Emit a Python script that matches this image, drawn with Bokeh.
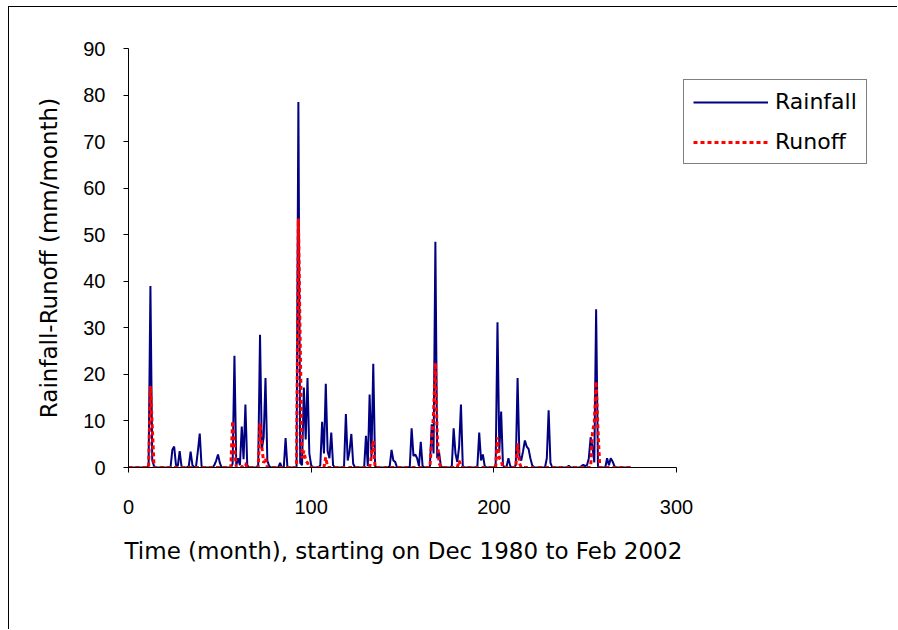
from bokeh.plotting import figure
from bokeh.models import Range1d, FixedTicker, Legend, LegendItem, ColumnDataSource, Title
from bokeh.embed import file_html
from bokeh.resources import INLINE

# Monthly series, month index 0..275
rainfall = [
    0, 0, 0, 0, 0, 0, 0, 0, 0, 0, 0, 0.5,
    39, 1.5, 0.3, 0, 0, 0, 0, 0, 0, 0, 0, 0,
    3.8, 4.5, 0.5, 0.3, 3.5, 0.3, 0, 0, 0, 0.3, 3.4, 0.5,
    0, 0.3, 3.6, 7.3, 0.3, 0, 0, 0, 0, 0, 0, 0.5,
    1.5, 2.8, 1.0, 0, 0, 0, 0, 0, 0, 0.8, 24, 0.5,
    2.0, 0.5, 8.8, 1.8, 13.5, 0.5, 0, 0, 0, 0, 0, 0.5,
    28.5, 4.0, 6.5, 19.2, 1.5, 0.3, 0, 0, 0, 0, 0, 1.0,
    0, 0, 6.3, 0, 0, 0, 0, 0, 0, 78.5, 1.0, 0.5,
    17.2, 6.0, 19.2, 3.0, 0.5, 0, 0, 0, 0, 0.5, 9.8, 3.0,
    18.0, 3.5, 2.0, 7.5, 0.5, 0, 0, 0, 0, 0, 0.3, 11.5,
    1.5, 3.5, 7.2, 0.8, 0, 0, 0, 0, 0, 0, 6.8, 0.3,
    15.7, 2.2, 22.3, 0.3, 0, 0, 0, 0, 0, 0, 0, 0.3,
    3.8, 1.5, 1.2, 0, 0, 0, 0, 0, 0, 0, 0.2, 8.4,
    2.5, 2.8, 2.0, 0.3, 5.5, 0.3, 0, 0, 0, 0.3, 9.3, 3.0,
    48.5, 2.0, 3.3, 0.3, 0, 0, 0, 0, 0, 0.3, 8.4, 3.0,
    1.2, 4.5, 13.5, 0.3, 0, 0, 0, 0, 0, 0, 0, 0.3,
    7.5, 1.5, 2.8, 0.3, 0, 0, 0, 0, 0, 0.5, 31.2, 3.5,
    12.0, 0.5, 0, 0.3, 2.0, 0.3, 0, 0, 0.5, 19.2, 2.5, 1.5,
    3.5, 5.8, 4.5, 4.0, 2.0, 0.5, 0, 0, 0, 0, 0, 0,
    0, 2.0, 12.3, 1.0, 0, 0, 0, 0, 0, 0, 0, 0,
    0, 0.4, 0, 0, 0, 0, 0, 0, 0.3, 0.6, 0.3, 0.5,
    2.0, 6.5, 4.4, 1.1, 34.0, 0.3, 0, 0, 0, 0, 2.0, 0.5,
    2.0, 1.3, 0.3, 0, 0, 0, 0, 0, 0, 0, 0, 0,
]

runoff = [
    0, 0, 0, 0, 0, 0, 0, 0, 0, 0, 0, 0,
    17.5, 9.0, 0, 0, 0, 0, 0, 0, 0, 0, 0, 0,
    0, 0, 0, 0, 0, 0, 0, 0, 0, 0, 0, 0,
    0, 0, 0, 0, 0, 0, 0, 0, 0, 0, 0, 0,
    0, 0, 0, 0, 0, 0, 0, 0, 0, 10.0, 5.0, 0,
    0, 0, 0, 0.8, 0.8, 0, 0, 0, 0, 0, 0, 0,
    9.5, 4.5, 1.0, 2.0, 0, 0, 0, 0, 0, 0, 0, 0,
    0, 0, 0, 0, 0, 0, 0, 0, 0, 53.5, 27.0, 2.0,
    3.6, 1.5, 1.0, 0, 0, 0, 0, 0, 0, 0, 0, 0,
    2.2, 0, 0, 0, 0, 0, 0, 0, 0, 0, 0, 0,
    0, 0, 0, 0, 0, 0, 0, 0, 0, 0, 0, 0,
    0, 2.5, 5.8, 0, 0, 0, 0, 0, 0, 0, 0, 0,
    0, 0, 0, 0, 0, 0, 0, 0, 0, 0, 0, 0,
    0, 0, 0, 0, 0, 0, 0, 0, 0, 0, 6.0, 11.5,
    22.5, 7.0, 1.0, 0, 0, 0, 0, 0, 0, 0, 0, 0,
    0, 1.5, 0, 0, 0, 0, 0, 0, 0, 0, 0, 0,
    0, 0, 0, 0, 0, 0, 0, 0, 0, 0, 6.5, 2.0,
    1.5, 0, 0, 0, 0, 0, 0, 0, 0, 5.2, 1.0, 0,
    0, 0, 0, 0, 0, 0, 0, 0, 0, 0, 0, 0,
    0, 0, 0, 0, 0, 0, 0, 0, 0, 0, 0, 0,
    0, 0, 0, 0, 0, 0, 0, 0, 0, 0, 0, 0,
    0, 0, 7.5, 9.7, 18.5, 8.3, 0, 0, 0, 0, 0, 0,
    0, 0, 0, 0, 0, 0, 0, 0, 0, 0, 0, 0,
]

months = list(range(len(rainfall)))
x_ticks = [0, 100, 200, 300]
y_ticks = [0, 10, 20, 30, 40, 50, 60, 70, 80, 90]
x_axis_min, x_axis_max = 0, 300
y_axis_min, y_axis_max = 0, 90
x_title = "Time (month), starting on Dec 1980 to Feb 2002"
y_title = "Rainfall-Runoff (mm/month)"
series_names = ["Rainfall", "Runoff"]

# frame extends to the right edge so the legend (outside the axes) is drawn;
# the x axis itself is bounded to 0..300
FRAME_W = 770
AXIS_W = 548
x_view_max = x_axis_max * FRAME_W / AXIS_W

src = ColumnDataSource(dict(month=months, rain=rainfall, runoff=runoff))

p = figure(width=889, height=623, output_backend="svg", toolbar_location=None,
           x_range=Range1d(x_axis_min, x_view_max), y_range=Range1d(y_axis_min, y_axis_max),
           min_border_left=119, min_border_right=0,
           min_border_top=41, min_border_bottom=163)
p.margin = (6, 0, 0, 8)
p.styles = {"border-top": "1px solid black", "border-left": "1px solid black"}
p.outline_line_color = None
p.grid.visible = False
p.background_fill_color = "white"
p.border_fill_color = "white"

r_rain = p.line("month", "rain", source=src, line_color="#000080", line_width=2)
r_run = p.line("month", "runoff", source=src, line_color="#FF0000", line_width=3,
               line_dash="4 3")

for ax in (p.xaxis[0], p.yaxis[0]):
    ax.axis_line_color = "black"
    ax.major_tick_line_color = "black"
    ax.major_tick_in = 0
    ax.major_tick_out = 5
    ax.minor_tick_line_color = None
    ax.major_label_text_font = "Liberation Sans"
    ax.major_label_text_font_size = "20px"
    ax.major_label_text_color = "black"
    ax.axis_label_text_font = "DejaVu Sans"
    ax.axis_label_text_font_size = "23px"
    ax.axis_label_text_font_style = "normal"
    ax.axis_label_text_color = "black"

p.xaxis.bounds = (x_axis_min, x_axis_max)
p.xaxis.ticker = FixedTicker(ticks=x_ticks)
p.yaxis.ticker = FixedTicker(ticks=y_ticks)
p.yaxis.axis_label = y_title
p.xaxis.major_label_standoff = 27
p.yaxis.major_label_standoff = 18
p.yaxis.axis_label_standoff = 18

# x-axis title, centred under the bounded axis (0..300)
xt = Title(text=x_title, align="left", offset=-4, vertical_align="top",
           text_font="DejaVu Sans", text_font_size="23px", text_font_style="normal",
           text_color="black", standoff=42)
p.add_layout(xt, "below")

legend = Legend(items=[LegendItem(label=series_names[0], renderers=[r_rain]),
                       LegendItem(label=series_names[1], renderers=[r_run])],
                location=(555, 303))
legend.label_text_font = "DejaVu Sans"
legend.label_text_font_size = "22px"
legend.label_text_color = "black"
legend.glyph_width = 75
legend.glyph_height = 20
legend.label_standoff = 7
legend.padding = 9
legend.spacing = 15
legend.margin = 0
legend.border_line_color = "black"
legend.border_line_width = 1
legend.background_fill_color = "white"
legend.background_fill_alpha = 1
p.add_layout(legend, "center")

open("out.html", "w").write(file_html(p, INLINE))
